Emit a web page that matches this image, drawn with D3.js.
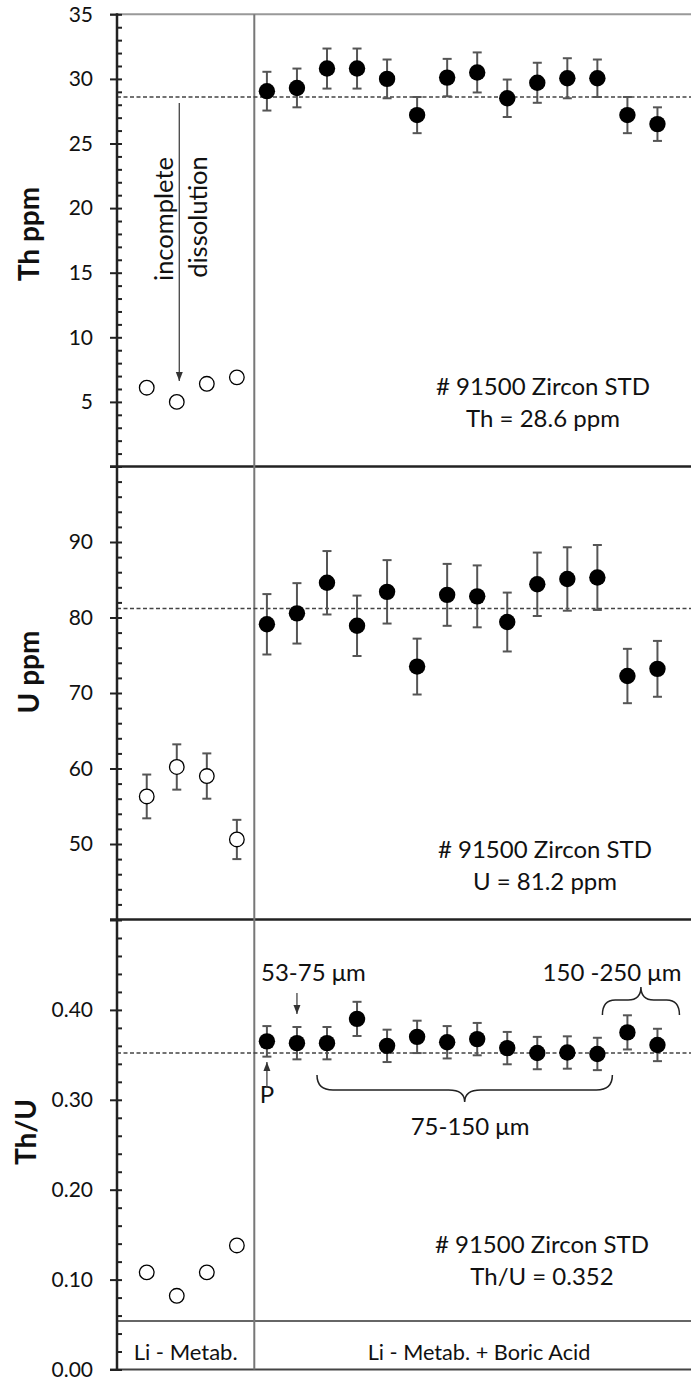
<!DOCTYPE html>
<html><head><meta charset="utf-8">
<script src="https://cdn.jsdelivr.net/npm/d3@7"></script>
<style>body{margin:0;background:#fff}svg{display:block}text{font-family:Lato,"Open Sans",sans-serif;fill:#111}</style>
</head><body><div id="chart"></div>
<script>
// ---- data ----
const openIdx = [1, 2, 3, 4];
const filledIdx = [5, 6, 7, 8, 9, 10, 11, 12, 13, 14, 15, 16, 17, 18];
const thOpen = [6.1, 5.0, 6.4, 6.9];
const thFilled = [29.05, 29.3, 30.8, 30.8, 30.0, 27.2, 30.1, 30.5, 28.5, 29.7, 30.05, 30.05, 27.2, 26.5];
const thErr = [1.5, 1.5, 1.55, 1.55, 1.5, 1.4, 1.45, 1.55, 1.45, 1.55, 1.55, 1.45, 1.4, 1.3];
const uOpen = [56.3, 60.2, 59.0, 50.6];
const uOpenErr = [2.9, 3.0, 3.0, 2.6];
const uFilled = [79.1, 80.55, 84.6, 78.9, 83.4, 73.5, 83.0, 82.8, 79.4, 84.4, 85.1, 85.3, 72.25, 73.2];
const uErr = [4.0, 4.0, 4.2, 4.0, 4.2, 3.7, 4.1, 4.1, 3.9, 4.2, 4.2, 4.3, 3.6, 3.7];
const ratioOpen = [0.108, 0.082, 0.108, 0.138];
const ratioFilled = [0.365, 0.363, 0.363, 0.390, 0.360, 0.370, 0.364, 0.3675, 0.3575, 0.352, 0.3526, 0.351, 0.375, 0.361];
const ratioErr = [0.017, 0.018, 0.018, 0.019, 0.018, 0.018, 0.018, 0.018, 0.018, 0.018, 0.018, 0.018, 0.019, 0.018];
const thRef = 28.6, uRef = 81.2, ratioRef = 0.352;
const thTicks = [5, 10, 15, 20, 25, 30, 35];
const uTicks = [50, 60, 70, 80, 90];
const ratioTicks = [0.0, 0.1, 0.2, 0.3, 0.4];
const groupLabels = ["Li - Metab.", "Li - Metab. + Boric Acid"];

// ---- layout ----
const W = 691, H = 1383;
const svg = d3.select("#chart").append("svg").attr("width", W).attr("height", H);
const x = d3.scaleLinear().domain([0, 19.11]).range([116.7, 690.8]);
const xDiv = x(4.58);
const yTh = d3.scaleLinear().domain([0, 35]).range([466.5, 14.3]);
const yU = d3.scaleLinear().domain([40, 100]).range([919.5, 466.5]);
const yR = d3.scaleLinear().domain([0, 0.5]).range([1369.5, 920]);

// frame lines
const g = svg.append("g");
g.append("line").attr("x1", 110).attr("x2", W).attr("y1", yTh(35)).attr("y2", yTh(35)).attr("stroke", "#999").attr("stroke-width", 2);
g.append("line").attr("x1", 110).attr("x2", W).attr("y1", yTh(0)).attr("y2", yTh(0)).attr("stroke", "#222").attr("stroke-width", 2.5);
g.append("line").attr("x1", 110).attr("x2", W).attr("y1", yU(40)).attr("y2", yU(40)).attr("stroke", "#222").attr("stroke-width", 2.5);
g.append("line").attr("x1", 117).attr("x2", W).attr("y1", yR(0.054)).attr("y2", yR(0.054)).attr("stroke", "#666").attr("stroke-width", 2);
g.append("line").attr("x1", 110).attr("x2", W).attr("y1", yR(0)).attr("y2", yR(0)).attr("stroke", "#444").attr("stroke-width", 2);
g.append("line").attr("x1", xDiv).attr("x2", xDiv).attr("y1", yTh(35)).attr("y2", yR(0)).attr("stroke", "#777").attr("stroke-width", 2);

// reference lines
[[yTh, thRef], [yU, uRef], [yR, ratioRef]].forEach(([ys, v]) => {
  g.append("line").attr("x1", 117).attr("x2", W).attr("y1", ys(v)).attr("y2", ys(v))
    .attr("stroke", "#444").attr("stroke-width", 1.6).attr("stroke-dasharray", "4,2.5");
});

// axes
function drawAxis(ys, major, minor, fmt) {
  const axMinor = svg.append("g").attr("transform", "translate(117,0)");
  axMinor.call(d3.axisRight(ys).tickValues(minor).tickSize(5).tickFormat(""));
  const ax = svg.append("g").attr("transform", "translate(117,0)");
  ax.call(d3.axisLeft(ys).tickValues(major).tickSize(7).tickPadding(17).tickFormat(fmt));
  [ax, axMinor].forEach(a => {
    a.select(".domain").remove();
    a.selectAll("line").attr("stroke", "#222").attr("stroke-width", 2);
  });
  ax.selectAll("text").attr("font-size", 21).attr("font-family", "Lato").attr("fill", "#111");
}
drawAxis(yTh, thTicks.concat([0]), d3.range(0, 36, 1), d => d === 0 ? "" : d3.format("d")(d));
drawAxis(yU, uTicks.concat([40, 100]), d3.range(40, 101, 2), d => (d === 40 || d === 100) ? "" : d3.format("d")(d));
drawAxis(yR, ratioTicks.concat([0.5]), d3.range(0, 0.501, 0.02), d => d >= 0.49 ? "" : d3.format(".2f")(d));
svg.append("line").attr("x1", 117).attr("x2", 117).attr("y1", yTh(35) - 1).attr("y2", yR(0) + 1).attr("stroke", "#222").attr("stroke-width", 2.5);

// axis titles
[["Th ppm", 28, 234], ["U ppm", 28, 672], ["Th/U", 25, 1132]].forEach(([t, cx, cy]) => {
  svg.append("text").attr("transform", `translate(${cx},${cy}) rotate(-90)`)
    .attr("text-anchor", "middle").attr("dominant-baseline", "central")
    .attr("font-weight", "bold").attr("font-size", 28).text(t);
});

// points
function drawSeries(ys, idx, vals, errs, filled) {
  const gg = svg.append("g");
  const data = idx.map((i, k) => ({ i, v: vals[k], e: errs ? errs[k] : null }));
  if (errs) {
    const eb = gg.selectAll(".eb").data(data).enter().append("g").attr("stroke", "#555").attr("stroke-width", 2);
    eb.append("line").attr("x1", d => x(d.i)).attr("x2", d => x(d.i)).attr("y1", d => ys(d.v + d.e)).attr("y2", d => ys(d.v - d.e));
    eb.append("line").attr("x1", d => x(d.i) - 4.5).attr("x2", d => x(d.i) + 4.5).attr("y1", d => ys(d.v + d.e)).attr("y2", d => ys(d.v + d.e));
    eb.append("line").attr("x1", d => x(d.i) - 4.5).attr("x2", d => x(d.i) + 4.5).attr("y1", d => ys(d.v - d.e)).attr("y2", d => ys(d.v - d.e));
  }
  gg.selectAll("circle").data(data).enter().append("circle")
    .attr("cx", d => x(d.i)).attr("cy", d => ys(d.v))
    .attr("r", filled ? 8.2 : 7.3)
    .attr("fill", filled ? "#000" : "#fff")
    .attr("stroke", "#000").attr("stroke-width", filled ? 0 : 1.3);
}
drawSeries(yTh, openIdx, thOpen, null, false);
drawSeries(yTh, filledIdx, thFilled, thErr, true);
drawSeries(yU, openIdx, uOpen, uOpenErr, false);
drawSeries(yU, filledIdx, uFilled, uErr, true);
drawSeries(yR, openIdx, ratioOpen, null, false);
drawSeries(yR, filledIdx, ratioFilled, ratioErr, true);

// arrow helper
function arrow(x0, y0, x1, y1, sw) {
  const a = svg.append("g");
  a.append("line").attr("x1", x0).attr("y1", y0).attr("x2", x1).attr("y2", y1).attr("stroke", "#444").attr("stroke-width", sw);
  const dir = Math.sign(y1 - y0);
  a.append("path").attr("d", `M${x1 - 3.5},${y1 - dir * 9} L${x1 + 3.5},${y1 - dir * 9} L${x1},${y1} Z`).attr("fill", "#333");
}

// top panel annotations
const incompX = x(2) + 2.5;
arrow(incompX, 103, incompX, 381, 1.3);
svg.append("text").attr("transform", `translate(163,219) rotate(-90)`).attr("text-anchor", "middle").attr("dominant-baseline", "central").attr("font-size", 25.5).text("incomplete");
svg.append("text").attr("transform", `translate(197,217) rotate(-90)`).attr("text-anchor", "middle").attr("dominant-baseline", "central").attr("font-size", 25.5).text("dissolution");

function stdLabel(cx, y1, y2, t2) {
  svg.append("text").attr("x", cx).attr("y", y1).attr("text-anchor", "middle").attr("font-size", 24).text("# 91500 Zircon STD");
  svg.append("text").attr("x", cx).attr("y", y2).attr("text-anchor", "middle").attr("font-size", 24).text(t2);
}
stdLabel(543, 395, 427, "Th = 28.6 ppm");
stdLabel(545, 858, 890, "U = 81.2 ppm");
stdLabel(542, 1253, 1285, "Th/U = 0.352");

// bottom panel annotations
svg.append("text").attr("x", 261).attr("y", 981).attr("font-size", 24).text("53-75 μm");
arrow(x(6), 993, x(6), 1014, 1.3);
svg.append("text").attr("x", x(5)).attr("y", 1103).attr("text-anchor", "middle").attr("font-size", 24).text("P");
arrow(x(5), 1088, x(5), 1062, 1.3);

function brace(x1, x2, yEnd, yFlat, yTip) {
  const xm = (x1 + x2) / 2, r = Math.min(16, (x2 - x1) / 6);
  const d = `M${x1},${yEnd} Q${x1},${yFlat} ${x1 + r},${yFlat} L${xm - r},${yFlat} Q${xm},${yFlat} ${xm},${yTip} Q${xm},${yFlat} ${xm + r},${yFlat} L${x2 - r},${yFlat} Q${x2},${yFlat} ${x2},${yEnd}`;
  svg.append("path").attr("d", d).attr("fill", "none").attr("stroke", "#222").attr("stroke-width", 1.5);
}
brace(x(7) - 10, x(16) + 15, 1075, 1090, 1102);
svg.append("text").attr("x", 470).attr("y", 1135).attr("text-anchor", "middle").attr("font-size", 24).text("75-150 μm");
brace(x(17) - 25, x(18) + 22, 1015, 1000, 987);
svg.append("text").attr("x", 612).attr("y", 981).attr("text-anchor", "middle").attr("font-size", 24).text("150 -250 μm");

// group labels
svg.append("text").attr("x", (117 + xDiv) / 2).attr("y", 1360).attr("text-anchor", "middle").attr("font-size", 22).text(groupLabels[0]);
svg.append("text").attr("x", 479).attr("y", 1360).attr("text-anchor", "middle").attr("font-size", 21.7).text(groupLabels[1]);
</script></body></html>
